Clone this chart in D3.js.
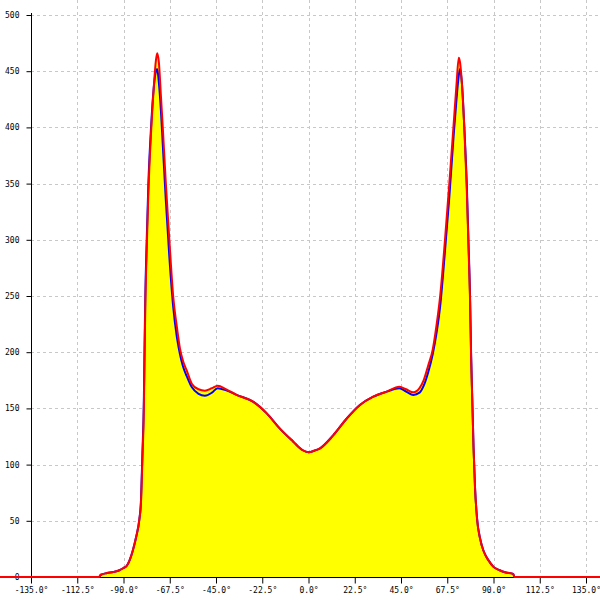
<!DOCTYPE html>
<html>
<head>
<meta charset="utf-8">
<script src="https://cdn.jsdelivr.net/npm/d3@7"></script>
<style>
  html, body { margin: 0; padding: 0; background: #fff; }
  svg { display: block; }
  text { font-family: "DejaVu Sans Mono", monospace; font-size: 8px; fill: #000; }
</style>
</head>
<body>
<svg id="chart" width="600" height="600"></svg>
<script>
// ---- data ----
const xTicks = [-135, -112.5, -90, -67.5, -45, -22.5, 0, 22.5, 45, 67.5, 90, 112.5, 135];
const yTicks = [0, 50, 100, 150, 200, 250, 300, 350, 400, 450, 500];
const angles = [-180, -102, -101, -98, -95, -92, -90, -88.4, -87, -85.4, -83.8, -82.3, -81.5, -80.8, -80.1, -79.8, -79.4, -78.7, -77.9, -76.6, -75.3, -74.2, -73.6, -72.8, -71.8, -70.9, -69.4, -67.7, -65.8, -64, -62.5, -61, -59.3, -56.8, -53.5, -50.4, -47, -44.2, -40, -35, -27, -20.3, -13.9, -7.4, -3, 0, 3, 5.6, 12, 18.6, 25, 31.5, 38, 44.2, 47.5, 51, 54, 56, 58.2, 60.4, 62.2, 64, 66.4, 68.5, 70.5, 72, 73.1, 73.7, 74.6, 75.8, 77, 77.8, 78.6, 79.1, 79.7, 80.3, 81, 82, 83.5, 85, 86.5, 87.5, 90, 93, 96, 99.6, 100.2, 180];
const blueValues = [0, 0, 2, 3.5, 4.5, 6, 8, 10, 15, 24, 36, 51, 68, 110, 157, 199, 249, 300, 350, 400, 435, 450, 452, 440, 415, 385, 335, 285, 240, 213, 198, 187, 179, 169, 163, 161.3, 164, 168, 166, 162, 156, 145.6, 132, 120.4, 113, 111, 112.5, 114.5, 126, 141, 153, 160.4, 164.9, 168, 165, 162, 164, 170, 182, 198, 216, 240, 290, 338, 390, 425, 446, 452, 440, 400, 350, 300, 249, 199, 157, 115, 80, 52, 34, 24, 18, 15, 9, 6, 4, 2.7, 0, 0];
const redValues = [0, 0, 2, 3.5, 4.5, 6, 8, 10, 15, 24, 36, 51, 66, 105, 150, 190, 240, 292, 342, 395, 435, 460, 466, 458, 428, 400, 350, 300, 249, 222, 203, 192, 184, 172, 167, 165.8, 168, 170.2, 167, 162, 156, 145.6, 132, 120.4, 113, 111, 112.5, 114.5, 126, 141, 153, 160.4, 164.9, 169.3, 167, 164.3, 168, 175, 188, 202, 223, 249, 300, 350, 400, 438, 462, 458, 440, 400, 345, 296, 245, 196, 155, 115, 80, 52, 34, 24, 18, 15, 9, 6, 4, 2.7, 0, 0];

// ---- chart ----
const svg = d3.select("#chart");
const x = d3.scaleLinear().domain([-135, 135]).range([31, 586]);
const y = d3.scaleLinear().domain([0, 500]).range([577, 15]);

const blue = angles.map((a, i) => ({a, v: blueValues[i]}));
const red = angles.map((a, i) => ({a, v: redValues[i]}));
const curve = d3.curveMonotoneX;

// grid
const grid = svg.append("g").attr("stroke", "#c8c8c8").attr("stroke-dasharray", "3,3").attr("shape-rendering", "crispEdges");
grid.selectAll("line.h").data(yTicks.filter(d => d > 0)).join("line")
  .attr("x1", 31).attr("x2", 600)
  .attr("y1", d => Math.round(y(d)) + 0.5).attr("y2", d => Math.round(y(d)) + 0.5);
grid.selectAll("line.v").data(xTicks.filter(d => d !== -135)).join("line")
  .attr("y1", 0).attr("y2", 577)
  .attr("x1", d => Math.round(x(d)) + 0.5).attr("x2", d => Math.round(x(d)) + 0.5);

// area
const area = d3.area().x(d => x(d.a)).y0(y(0)).y1(d => y(d.v)).curve(curve);
svg.append("path").datum(red).attr("d", area).attr("fill", "#ffff00");

// axes
const yAxis = d3.axisLeft(y).tickValues(yTicks).tickSize(5).tickPadding(7).tickFormat(d3.format("d"));
const gy = svg.append("g").attr("transform", "translate(31.5,0)").call(yAxis);
gy.select(".domain").attr("d", "M0,13V583").attr("stroke", "#000");
gy.selectAll(".tick line").attr("stroke", "#000");
gy.selectAll("text").attr("font-family", "DejaVu Sans Mono").attr("font-size", 8);

const xAxis = d3.axisBottom(x).tickValues(xTicks).tickSize(6).tickPadding(4).tickFormat(d => d.toFixed(1) + "°");
const gx = svg.append("g").attr("transform", "translate(0,577.5)").call(xAxis);
gx.select(".domain").attr("d", "M31,0H586").attr("stroke", "#000");
gx.selectAll(".tick line").attr("stroke", "#000");
gx.selectAll("text").attr("font-family", "DejaVu Sans Mono").attr("font-size", 8);

// lines
const line = d3.line().x(d => x(d.a)).y(d => y(d.v)).curve(curve);
svg.append("path").datum(blue).attr("d", line).attr("fill", "none").attr("stroke", "#0000ff").attr("stroke-width", 2);
svg.append("path").datum(red).attr("d", line).attr("fill", "none").attr("stroke", "#ff0000").attr("stroke-width", 2);
</script>
</body>
</html>
